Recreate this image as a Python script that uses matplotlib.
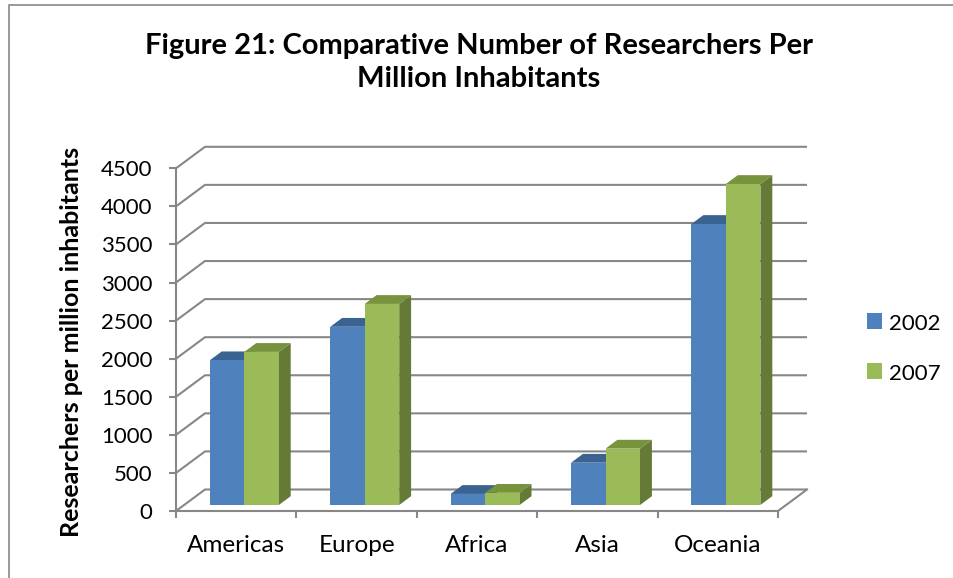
import matplotlib.pyplot as plt
from matplotlib.patches import Rectangle, Polygon

regions = ["Americas", "Europe", "Africa", "Asia", "Oceania"]
years = ["2002", "2007"]
res_2002 = [1900, 2340, 145, 555, 3690]
res_2007 = [2010, 2640, 160, 740, 4215]
yticks = [0, 500, 1000, 1500, 2000, 2500, 3000, 3500, 4000, 4500]

face = ["#4F81BD", "#9BBB59"]
top = ["#3B6392", "#77933C"]
side = ["#385D8A", "#647A36"]
grid_col = "#878787"

plt.rcParams["font.family"] = ["Lato", "DejaVu Sans"]

fig = plt.figure(figsize=(9.54, 5.78), dpi=100)
ax = fig.add_axes([176 / 954, 67 / 578, 602 / 954, 342.7 / 578])
ax.set_xlim(0, 5)
ax.set_ylim(0, 4500)

# depth of the box (back wall offset) in data units
DX = 29 / 120.4
DY = 21.5 / (342.7 / 4500)
# bars sit in the middle of the depth
f0, fd = 0.28, 0.41
w = 0.2865

# back wall grid + left wall diagonals
for v in yticks:
    ax.plot([0, DX, 5 + DX], [v, v + DY, v + DY], color=grid_col,
            lw=1.5, clip_on=False, zorder=1, solid_capstyle="butt")
ax.plot([5, 5 + DX], [0, DY], color=grid_col, lw=1.5, clip_on=False, zorder=1)

for s, vals in enumerate([res_2002, res_2007]):
    for i, v in enumerate(vals):
        x0 = i + 0.5 + f0 * DX - w + s * w
        y0 = f0 * DY
        bx, by = fd * DX, fd * DY
        ax.add_patch(Polygon([(x0 + w, y0), (x0 + w, y0 + v),
                              (x0 + w + bx, y0 + v + by), (x0 + w + bx, y0 + by)],
                             closed=True, fc=side[s], ec="none", zorder=3 + s,
                             clip_on=False))
        ax.add_patch(Polygon([(x0, y0 + v), (x0 + w, y0 + v),
                              (x0 + w + bx, y0 + v + by), (x0 + bx, y0 + v + by)],
                             closed=True, fc=top[s], ec="none", zorder=3 + s,
                             clip_on=False))
        ax.add_patch(Rectangle((x0, y0), w, v, fc=face[s], ec="none",
                               zorder=3 + s, clip_on=False))

for sp in ["top", "right"]:
    ax.spines[sp].set_visible(False)
for sp in ["left", "bottom"]:
    ax.spines[sp].set_color(grid_col)
    ax.spines[sp].set_linewidth(1.5)
    ax.spines[sp].set_zorder(2)

ax.set_yticks(yticks)
ax.set_yticklabels([str(t) for t in yticks])
ax.tick_params(axis="y", length=5, width=1.5, color=grid_col, pad=12,
               labelsize=16)
ax.set_xticks(range(6))
ax.set_xticklabels([])
ax.tick_params(axis="x", which="major", length=5, width=1.5, color=grid_col)
ax.set_xticks([i + 0.5 for i in range(5)], minor=True)
ax.set_xticklabels(regions, minor=True)
ax.tick_params(axis="x", which="minor", length=0, pad=17, labelsize=17.5)

fig.text(72 / 954, 1 - 342 / 578, "Researchers per million inhabitants",
         rotation=90, ha="center", va="center", fontsize=18, fontweight="bold")

fig.text(479 / 954, 1 - 33 / 578,
         "Figure 21: Comparative Number of Researchers Per\nMillion Inhabitants",
         ha="center", va="top", fontsize=21, fontweight="bold", linespacing=1.33)

# legend
for s, (yr, ytop) in enumerate(zip(years, [313, 363])):
    fig.patches.append(Rectangle((867 / 954, 1 - (ytop + 15.5) / 578),
                                 15.5 / 954, 15.5 / 578, fc=face[s], ec="none",
                                 transform=fig.transFigure, figure=fig))
    fig.text(889 / 954, 1 - (ytop + 16.5) / 578, yr, ha="left",
             va="baseline", fontsize=16)

# chart area border
fig.patches.append(Rectangle((9 / 954, -0.1), 1.2, 1.1 - 5 / 578, fill=False,
                             ec=grid_col, lw=1.2, transform=fig.transFigure,
                             figure=fig))

fig.savefig("out.png", dpi=100)
